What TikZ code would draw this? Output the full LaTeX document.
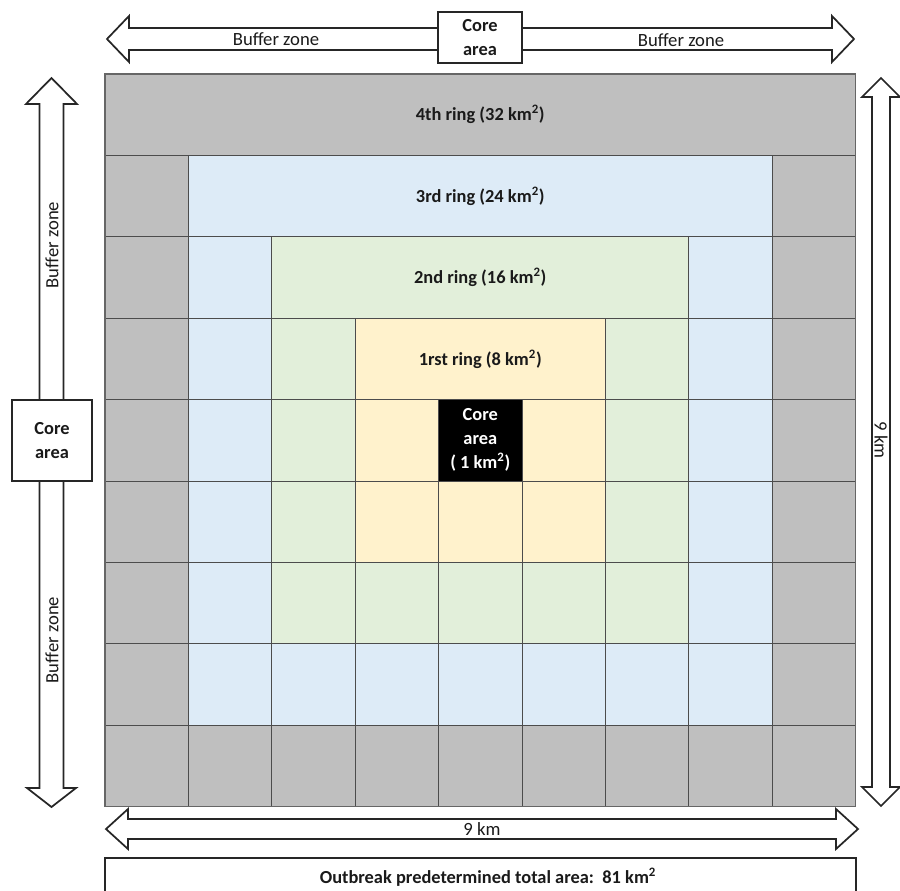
\documentclass[tikz,border=0pt]{standalone}
\usepackage{fontspec}
\setmainfont{Carlito}
\definecolor{ring0}{HTML}{000000}
\definecolor{ring1}{HTML}{FFF2CC}
\definecolor{ring2}{HTML}{E2EFDA}
\definecolor{ring3}{HTML}{DDEBF7}
\definecolor{ring4}{HTML}{BFBFBF}
\definecolor{txt}{HTML}{1A1A1A}
\begin{document}
\begin{tikzpicture}[x=0.75pt,y=-0.75pt,
  cellline/.style={draw=black!70, line width=0.7pt},
  lbl/.style={font=\bfseries\fontsize{13.8}{16}\selectfont, text=txt},
  plain/.style={font=\fontsize{14}{16}\selectfont, text=txt},
  boxlbl/.style={font=\bfseries\fontsize{13.8}{18}\selectfont, text=txt, align=center},
  blockarrow/.style={draw=black!85, fill=white, line width=1.3pt, line join=miter},
  framebox/.style={draw=black!85, fill=white, line width=1.1pt}]
\useasboundingbox (0,0) rectangle (900,890);
% grid cells
\foreach \i in {0,...,8} {
  \foreach \j in {0,...,8} {
    \pgfmathtruncatemacro\r{max(abs(\i-4),abs(\j-4))}
    \draw[cellline, fill=ring\r] (105+83.4*\i, 74+81.4*\j) rectangle ++(83.4,81.4);
  }
}
% merged label cells
\draw[cellline, fill=ring4] (105,74) rectangle (855.6,155.4);
\draw[cellline, fill=ring3] (188.4,155.4) rectangle (772.2,236.8);
\draw[cellline, fill=ring2] (271.8,236.8) rectangle (688.8,318.2);
\draw[cellline, fill=ring1] (355.2,318.2) rectangle (605.4,399.6);
\draw[draw=black!60, line width=0.9pt] (105,74) rectangle (855.6,806.6);
\node[lbl] (r4) at (480.3,114.7) {4th ring (32 km\textsuperscript{2})};
\node[lbl] (r3) at (480.3,196.1) {3rd ring (24 km\textsuperscript{2})};
\node[lbl] (r2) at (480.3,277.5) {2nd ring (16 km\textsuperscript{2})};
\node[lbl] (r1) at (480.3,358.9) {1rst ring (8 km\textsuperscript{2})};
\node[boxlbl, text=white] (core) at (480.3,440.3) {Core\\area\\( 1 km\textsuperscript{2})};
% top arrows
\draw[blockarrow] (438,28) -- (129,28) -- (129,16) -- (107,39) -- (129,62) -- (129,50) -- (438,50);
\draw[blockarrow] (522,28) -- (832,28) -- (832,16) -- (854,39) -- (832,62) -- (832,50) -- (522,50);
\draw[framebox] (438,12) rectangle (522,63);
\node[boxlbl] (topcore) at (480,38) {Core\\area};
\node[plain] (tbl) at (276,39) {Buffer zone};
\node[plain] (tbr) at (681,40) {Buffer zone};
% left arrows
\draw[blockarrow] (39.5,400) -- (39.5,104) -- (26,104) -- (51.5,78) -- (77,104) -- (63.5,104) -- (63.5,400);
\draw[blockarrow] (39.5,481) -- (39.5,788) -- (27,788) -- (51.5,807) -- (76,788) -- (63.5,788) -- (63.5,481);
\draw[framebox] (12,400) rectangle (92,481);
\node[boxlbl] (leftcore) at (52,441) {Core\\area};
\node[plain, rotate=90] (lbu) at (52,245) {Buffer zone};
\node[plain, rotate=90] (lbd) at (52,640) {Buffer zone};
% right double arrow
\draw[blockarrow] (872,97) -- (862,97) -- (881,78) -- (900,97) -- (890,97) -- (890,787) -- (900,787) -- (881,806) -- (862,787) -- (872,787) -- cycle;
\node[plain, rotate=-90] (rkm) at (881,440) {9 km};
% bottom double arrow
\draw[blockarrow] (128,819) -- (128,809) -- (106,829) -- (128,849) -- (128,839) -- (836,839) -- (836,849) -- (858,829) -- (836,809) -- (836,819) -- cycle;
\node[plain] (bkm) at (482,829) {9 km};
% bottom total box
\draw[framebox] (105,858) rectangle (856,894);
\node[lbl] (total) at (488,877) {Outbreak predetermined total area:\ \ 81 km\textsuperscript{2}};
\end{tikzpicture}
\end{document}
